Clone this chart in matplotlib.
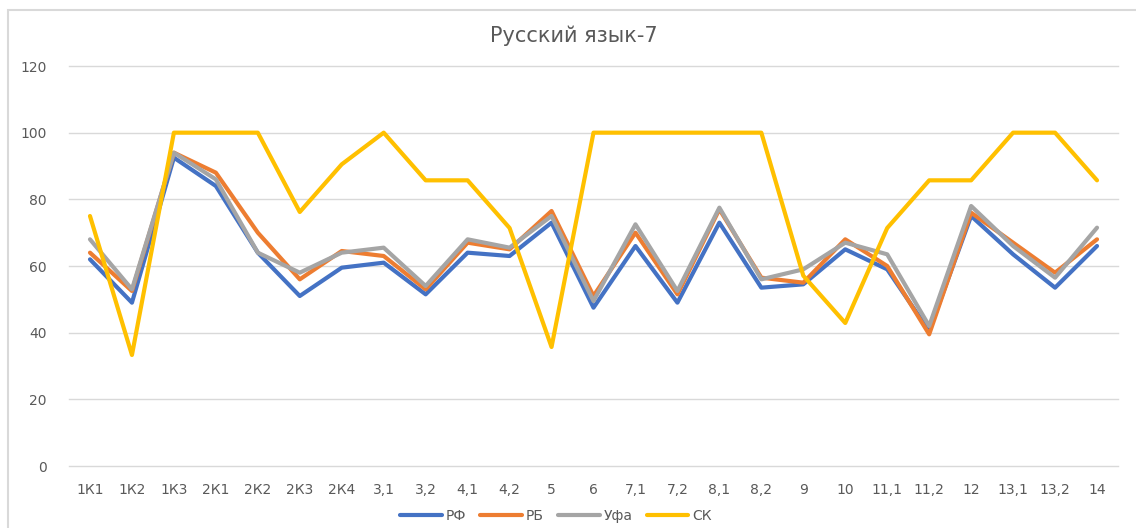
import matplotlib

matplotlib.use("Agg")

import matplotlib.pyplot as plt
from matplotlib.patches import Rectangle

categories = [
    "1К1", "1К2", "1К3", "2К1", "2К2", "2К3", "2К4", "3,1", "3,2", "4,1",
    "4,2", "5", "6", "7,1", "7,2", "8,1", "8,2", "9", "10", "11,1",
    "11,2", "12", "13,1", "13,2", "14",
]
rf = [62, 49, 92.5, 84, 64, 51, 59.5, 61, 51.5, 64, 63, 73, 47.5, 66, 49,
      73, 53.5, 54.5, 65, 59, 40.5, 75, 63.5, 53.5, 66]
rb = [64, 52.5, 94, 88, 70, 56, 64.5, 63, 53, 67, 65, 76.5, 51, 70, 51.5,
      77, 56.5, 55, 68, 60, 39.5, 76, 67, 58, 68]
ufa = [68, 53, 94, 86, 64, 58, 64, 65.5, 54, 68, 65.5, 75, 49.5, 72.5, 52.5,
       77.5, 56, 59, 67, 63.5, 42, 78, 66, 56.5, 71.5]
sk = [75, 33.3, 100, 100, 100, 76.2, 90.5, 100, 85.7, 85.7, 71.4, 35.7, 100,
      100, 100, 100, 100, 57.1, 42.9, 71.4, 85.7, 85.7, 100, 100, 85.7]
series_names = ["РФ", "РБ", "Уфа", "СК"]

plt.rcParams["font.family"] = ["DejaVu Sans"]
text_color = "#595959"

fig = plt.figure(figsize=(11.36, 5.28), dpi=100)
# chart-area frame, only the left and top edges are inside the picture
fig.patches.append(
    Rectangle((8 / 1136, -0.1), 1.2, 0.1 + 518 / 528,
              transform=fig.transFigure, fill=False,
              edgecolor="#d9d9d9", linewidth=1.5)
)
ax = fig.add_axes([69 / 1136, 1 - 466 / 528, 1049 / 1136, 400 / 528])
ax.patch.set_visible(False)

x = list(range(len(categories)))
colors = ["#4472C4", "#ED7D31", "#A5A5A5", "#FFC000"]
for values, name, color in zip([rf, rb, ufa, sk], series_names, colors):
    ax.plot(x, values, color=color, linewidth=3.0, label=name,
            solid_joinstyle="round", solid_capstyle="round")

ax.set_xlim(-0.5, len(categories) - 0.5)
ax.set_ylim(0, 120)
ax.set_yticks(range(0, 121, 20))
ax.set_xticks(x)
ax.set_xticklabels(categories)
ax.grid(axis="y", color="#d9d9d9", linewidth=1.0)
for line in ax.get_ygridlines():
    line.set_clip_on(False)
ax.set_axisbelow(True)
for spine in ax.spines.values():
    spine.set_visible(False)
ax.tick_params(axis="both", length=0, colors=text_color, labelsize=10)
ax.tick_params(axis="x", pad=12)
ax.tick_params(axis="y", pad=16)

fig.text(574 / 1136, 1 - 36 / 528, "Русский язык-7", ha="center",
         va="center", fontsize=15, color=text_color)
ax.legend(loc="center", bbox_to_anchor=((556 - 69) / 1049, -0.125), ncol=4,
          frameon=False, fontsize=10, labelcolor=text_color,
          handlelength=3.0, handletextpad=0.3, columnspacing=1.0)

fig.savefig("out.png", dpi=100)
